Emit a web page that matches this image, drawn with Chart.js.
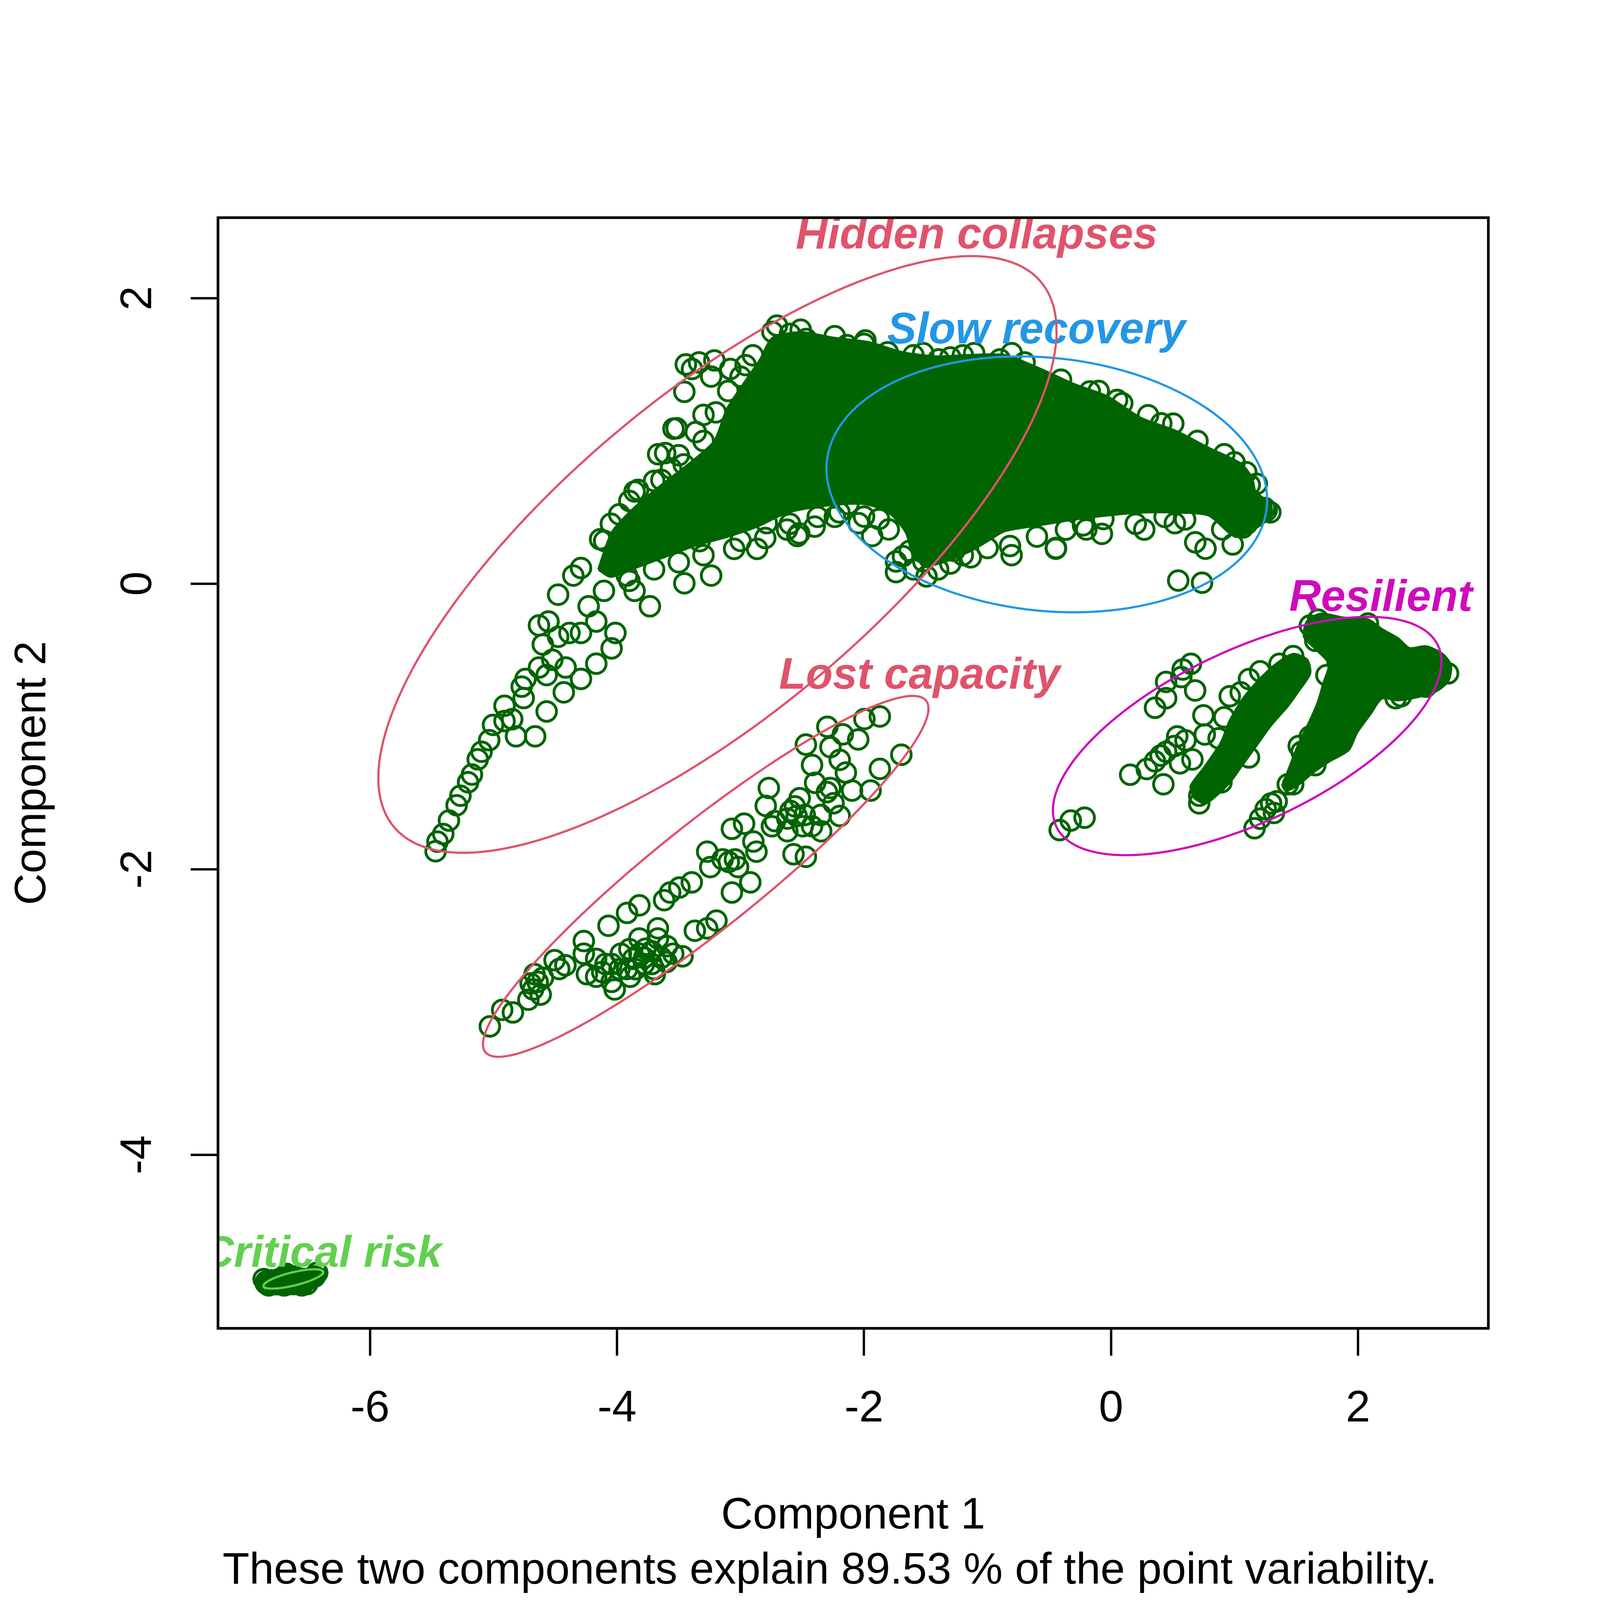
<!DOCTYPE html>
<html>
<head>
<meta charset="utf-8">
<title>Cluster plot</title>
<script src="https://cdn.jsdelivr.net/npm/chart.js@4.4.1/dist/chart.umd.min.js"></script>
<style>
html, body { margin: 0; padding: 0; background: #fff; overflow: hidden; }
#wrap { position: absolute; left: 0; top: 0; }
</style>
</head>
<body>
<div id="wrap"><canvas id="pc"></canvas></div>
<script>
// ---- data (component 1, component 2) ----
var upperPts = [
  [-5.469,-1.874],[-5.454,-1.807],[-5.407,-1.753],[-5.361,-1.659],[-5.299,-1.552],[-5.268,-1.485],
  [-5.206,-1.391],[-5.175,-1.337],[-5.128,-1.230],[-5.097,-1.177],[-5.035,-1.096],[-5.004,-0.989],
  [-4.911,-0.962],[-4.849,-0.949],[-4.818,-1.069],[-4.772,-0.721],[-4.741,-0.667],[-4.663,-1.069],
  [-4.570,-0.895],[-4.632,-0.587],[-4.601,-0.426],[-4.524,-0.533],[-4.431,-0.761],[-4.477,-0.372],
  [-4.632,-0.292],[-4.555,-0.265],[-4.477,-0.077],[-4.354,0.057],[-4.292,0.110],[-4.292,-0.667],
  [-4.168,-0.560],[-4.137,0.311],[-4.044,-0.453],[-4.013,-0.345],[-3.982,0.486],[-3.858,0.646],
  [-3.734,-0.158],[-3.641,0.727],[-3.610,0.915],[-3.563,0.807],[-3.517,1.089],[-3.455,1.344],
  [-3.362,1.062],[-3.393,1.504],[-3.300,1.183],[-3.238,0.057],[-3.455,0.003],[-3.331,0.298],
  [-3.052,0.244],[-2.866,0.244],[-2.525,0.352],[-3.238,1.451],[-3.083,1.504],[-2.959,1.531],
  [-4.292,-0.345],[-4.230,-0.158],[-4.106,-0.050],[-3.920,0.057],[-4.385,-0.345],[-4.168,-0.265],
  [-3.858,-0.050],[-4.416,-0.587],[-4.570,-0.640],[-4.911,-0.855],[-4.756,-0.801],
  [-3.443,1.536],[-3.336,1.550],[-3.212,1.564],[-3.543,1.086],[-3.667,0.907],[-3.460,0.836],
  [-3.830,0.657],[-4.104,0.300],
  [-2.540,0.334],[-2.623,0.379],[-2.375,0.468],[-2.044,0.424],[-1.934,0.334],[-1.741,0.156],
  [-1.741,0.081],[-1.494,0.051],[-1.136,0.185],[-0.805,0.200],[-0.447,0.245],[-0.365,0.379],
  [-0.074,0.349],[0.269,0.379],[-0.062,0.453],[0.544,0.022],[0.737,0.007],[0.682,0.290],
  [0.765,0.245],[0.985,0.275],[1.068,0.394],[1.205,0.498],[1.260,0.513],[0.517,0.424],
  [0.434,0.468],[-0.227,0.409],[-1.301,0.141],[-1.631,0.230],[-1.879,0.453],[-2.237,0.468],
  [-2.127,0.558],[-2.788,0.424],
  [-2.237,1.734],[-1.989,1.704],[-1.521,1.615],[-1.301,1.585],[-1.108,1.615],[-0.805,1.615],
  [-0.172,1.347],[0.049,1.287],[0.407,1.123],[1.095,0.781],[1.123,0.692],[-2.513,1.779],
  [-2.705,1.808],[-2.742,1.764],[-2.469,1.714],[-2.139,1.671],[-1.808,1.621],[-1.396,1.571],
  [-0.900,1.571],[-0.405,1.429],[0.091,1.264],[0.504,1.121],[0.917,0.907],[-1.685,0.193],
  [-1.520,0.157],[-1.270,0.230],[-0.818,0.264],[-0.446,0.250],[1.245,0.530],[1.290,0.500],
  [-3.900,0.020],[-3.700,0.100],[-3.500,0.150],[-3.300,0.200],[-3.000,0.300],[-2.800,0.320],
  [-2.600,0.420],[-2.400,0.400],[-2.200,0.500],[-2.000,0.470],[-1.800,0.380],[-1.600,0.100],
  [-1.400,0.100],[-1.200,0.200],[-1.000,0.250],[-0.600,0.330],[-0.200,0.380],[0.200,0.420],
  [0.600,0.450],[0.900,0.380],[1.100,0.420],
  [-3.000,1.450],[-2.900,1.600],[-2.600,1.750],[-2.000,1.680],[-1.600,1.600],[-1.200,1.600],
  [-0.700,1.550],[-0.100,1.350],[0.300,1.180],[0.700,1.000],[1.000,0.850],[1.180,0.700],
  [-4.050,0.420],[-3.900,0.580],[-3.700,0.720],[-3.500,0.900],[-3.300,1.000],[-3.200,1.200],
  [-3.100,1.350]
];

var lostPts = [
  [-5.030,-3.101],[-4.930,-2.985],[-4.843,-3.003],[-4.718,-2.914],[-4.680,-2.842],[-4.643,-2.789],
  [-4.668,-2.735],[-4.618,-2.878],[-4.506,-2.637],[-4.418,-2.673],[-4.468,-2.699],[-4.269,-2.503],
  [-4.244,-2.735],[-4.169,-2.753],[-4.269,-2.592],[-4.069,-2.396],[-4.019,-2.842],[-4.044,-2.664],
  [-3.919,-2.306],[-3.894,-2.753],[-3.969,-2.592],[-3.819,-2.253],[-3.819,-2.485],[-3.782,-2.664],
  [-3.719,-2.574],[-3.694,-2.735],[-3.669,-2.414],[-3.619,-2.217],[-3.595,-2.539],[-3.570,-2.163],
  [-3.470,-2.610],[-3.495,-2.128],[-3.395,-2.092],[-3.370,-2.431],[-3.270,-2.414],[-3.195,-2.360],
  [-3.270,-1.877],[-3.245,-1.985],[-3.145,-1.931],[-3.045,-1.931],[-3.070,-2.163],[-2.921,-2.092],
  [-3.020,-1.985],[-3.070,-1.717],[-2.971,-1.681],[-2.896,-1.806],[-2.871,-1.877],[-2.771,-1.431],
  [-2.796,-1.556],[-2.721,-1.663],[-2.621,-1.734],[-2.596,-1.592],[-2.521,-1.502],[-2.571,-1.895],
  [-2.471,-1.913],[-2.546,-1.627],[-2.471,-1.127],[-2.421,-1.270],[-2.396,-1.395],[-2.347,-1.734],
  [-2.297,-1.002],[-2.272,-1.145],[-2.247,-1.538],[-2.197,-1.234],[-2.172,-1.055],[-2.147,-1.323],
  [-2.197,-1.627],[-2.097,-1.449],[-2.047,-1.091],[-1.997,-0.948],[-1.947,-1.449],[-1.872,-0.930],
  [-1.872,-1.297],[-1.698,-1.198],[-2.272,-1.431],
  [-3.869,-2.628],[-3.769,-2.557],[-3.919,-2.699],[-4.094,-2.664],[-3.719,-2.664],[-3.819,-2.592],
  [-4.044,-2.789],[-4.169,-2.628],[-3.545,-2.592],[-3.669,-2.485],[-2.621,-1.645],[-2.496,-1.699],
  [-2.421,-1.699],[-2.746,-1.699],[-3.095,-1.949],
  [-3.850,-2.700],[-3.780,-2.620],[-3.700,-2.700],[-3.640,-2.620],[-3.900,-2.560],[-3.980,-2.700],
  [-4.120,-2.720],[-3.600,-2.650],[-2.560,-1.560],[-2.480,-1.620],[-2.350,-1.620],[-2.300,-1.460],
  [-4.700,-2.800],[-4.600,-2.760]
];

var resilientPts = [
  [-0.416,-1.726],[-0.326,-1.659],[-0.214,-1.639],[0.356,-0.869],[0.446,-0.802],[0.446,-0.688],
  [0.569,-0.654],[0.647,-0.561],[0.681,-0.748],[0.580,-0.601],[0.155,-1.338],[0.289,-1.298],
  [0.356,-1.244],[0.401,-1.204],[0.446,-1.177],[0.513,-1.137],[0.536,-1.070],[0.603,-1.097],
  [0.659,-1.231],[0.424,-1.405],[0.558,-1.258],[0.748,-0.922],[0.759,-1.056],[0.871,-1.083],
  [0.916,-0.936],[0.961,-0.788],[1.050,-0.761],[1.117,-0.668],[1.207,-0.614],[1.475,-0.507],
  [1.364,-0.561],[1.744,-0.641],[1.834,-0.547],[1.117,-1.217],[0.714,-1.485],[0.714,-1.539],
  [0.804,-1.418],[0.894,-1.391],[1.162,-1.713],[1.207,-1.646],[1.252,-1.579],[1.296,-1.539],
  [1.341,-1.525],[1.319,-1.606],[1.431,-1.405],[1.475,-1.405],[1.520,-1.137],[1.543,-1.177],
  [1.610,-1.070],[1.654,-1.271],[1.654,-0.400],[1.610,-0.293],[1.677,-0.252],[2.080,-0.279],
  [2.348,-0.788],[2.550,-0.721],[2.304,-0.802],[2.662,-0.601],[2.729,-0.628]
];

var criticalPts = [
  [-6.841,-4.889],[-6.820,-4.915],[-6.779,-4.906],[-6.737,-4.906],[-6.696,-4.915],[-6.655,-4.906],
  [-6.614,-4.906],[-6.572,-4.906],[-6.531,-4.889],[-6.490,-4.871],[-6.448,-4.853],[-6.428,-4.826],
  [-6.676,-4.835],[-6.614,-4.853],[-6.737,-4.871],[-6.799,-4.880],[-6.552,-4.915],[-6.510,-4.906],
  [-6.861,-4.871]
];

// outlines of the areas where the circles overlap into solid green
var upperCore = [
  [-4.15,0.10],[-4.04,0.36],[-3.86,0.53],[-3.64,0.69],[-3.40,0.85],[-3.21,1.00],[-3.11,1.22],
  [-2.99,1.38],[-2.84,1.57],[-2.74,1.72],[-2.51,1.76],[-2.24,1.72],[-1.96,1.69],[-1.69,1.62],
  [-1.41,1.59],[-1.14,1.60],[-0.86,1.60],[-0.59,1.51],[-0.31,1.40],[-0.03,1.31],[0.24,1.16],
  [0.52,1.07],[0.79,0.95],[1.05,0.84],[1.14,0.74],[1.17,0.64],[1.29,0.56],[1.29,0.47],[1.17,0.39],
  [1.01,0.33],[0.79,0.48],[0.52,0.50],[0.24,0.50],[-0.03,0.48],[-0.31,0.45],[-0.59,0.41],
  [-0.86,0.37],[-1.00,0.30],[-1.14,0.23],[-1.33,0.16],[-1.49,0.13],[-1.60,0.20],[-1.66,0.36],
  [-1.80,0.50],[-2.00,0.56],[-2.30,0.55],[-2.62,0.50],[-2.87,0.40],[-3.11,0.33],[-3.36,0.27],
  [-3.61,0.19],[-3.86,0.11],[-4.05,0.05],[-4.15,0.10]
];
var resilientCoreA = [
  [0.670,-1.499],[0.647,-1.418],[0.759,-1.284],[0.894,-1.110],[0.961,-0.963],[1.073,-0.802],
  [1.207,-0.668],[1.341,-0.561],[1.475,-0.494],[1.587,-0.534],[1.610,-0.628],[1.520,-0.748],
  [1.431,-0.855],[1.296,-0.989],[1.162,-1.150],[1.050,-1.284],[0.961,-1.391],[0.849,-1.485],
  [0.759,-1.539],[0.670,-1.499]
];
var resilientCoreB = [
  [1.386,-1.418],[1.453,-1.271],[1.520,-1.123],[1.610,-0.963],[1.677,-0.829],[1.722,-0.695],
  [1.766,-0.561],[1.654,-0.453],[1.565,-0.373],[1.587,-0.266],[1.699,-0.212],[1.878,-0.239],
  [2.080,-0.252],[2.192,-0.319],[2.326,-0.386],[2.415,-0.453],[2.550,-0.440],[2.684,-0.494],
  [2.751,-0.574],[2.729,-0.681],[2.639,-0.748],[2.505,-0.788],[2.326,-0.815],[2.192,-0.802],
  [2.102,-0.909],[1.990,-1.043],[1.923,-1.164],[1.766,-1.244],[1.632,-1.324],[1.520,-1.405],
  [1.431,-1.445],[1.386,-1.418]
];
var criticalCore = [
  [-6.934,-4.889],[-6.900,-4.840],[-6.840,-4.817],[-6.750,-4.800],[-6.700,-4.775],[-6.620,-4.780],
  [-6.550,-4.795],[-6.450,-4.795],[-6.360,-4.800],[-6.341,-4.830],[-6.407,-4.889],[-6.490,-4.951],
  [-6.614,-4.978],[-6.779,-4.981],[-6.882,-4.969],[-6.923,-4.933],[-6.934,-4.889]
];

// cluster ellipses: centre and spread matrix (sxx, sxy, syy)
var ellName  = ['Hidden collapses', 'Slow recovery', 'Lost capacity', 'Resilient', 'Critical risk'];
var ellColor = ['#DF536B', '#2297E6', '#DF536B', '#CD0BBC', '#61D04F'];
var ellCx  = [-3.187, -0.520, -3.282, 1.102, -6.621];
var ellCy  = [0.205, 0.696, -2.050, -1.067, -4.870];
var ellSxx = [7.541, 3.183, 3.254, 2.474, 0.0584];
var ellSxy = [4.300, -0.195, 2.120, 0.820, 0.0116];
var ellSyy = [4.368, 0.803, 1.598, 0.697, 0.00458];

// cluster labels (centre x, baseline y)
var labelX = [-1.088, -0.605, -1.550, 2.185, -6.389];
var labelY = [2.349, 1.683, -0.735, -0.190, -4.784];

var xTickStep = 2, yTickStep = 2;
var xMin = -7.231, xMax = 3.055, yMin = -5.216, yMax = 2.564;
var xTitle = 'Component 1';
var yTitle = 'Component 2';
var subTitle = 'These two components explain 89.53 % of the point variability.';

var FONT = '"Liberation Sans", Arial, Helvetica, sans-serif';
var FS = 132;
var PT_GREEN = '#006400';

// the layout was measured on a 4800 px picture; scale it to whatever the window is
var W = window.innerWidth || 4800;
var H = window.innerHeight || 4800;
var S = Math.min(W, H);
var k = S / 4800;
function px(v) { return v * k; }

var cv = document.getElementById('pc');
cv.style.width = S + 'px';
cv.style.height = S + 'px';
document.getElementById('wrap').style.width = S + 'px';
document.getElementById('wrap').style.height = S + 'px';

function toXY(list) {
  return list.map(function(p) { return { x: p[0], y: p[1] }; });
}

function ellipsePath(i) {
  var l11 = Math.sqrt(ellSxx[i]);
  var l21 = ellSxy[i] / l11;
  var l22 = Math.sqrt(ellSyy[i] - l21 * l21);
  var out = [];
  for (var j = 0; j <= 180; j++) {
    var t = 2 * Math.PI * j / 180;
    out.push({ x: ellCx[i] + l11 * Math.cos(t), y: ellCy[i] + l21 * Math.cos(t) + l22 * Math.sin(t) });
  }
  return out;
}

function coreSet(list, bw) {
  return {
    type: 'line', label: 'core', data: toXY(list), order: 2,
    showLine: true, fill: 'shape', tension: 0.25,
    backgroundColor: PT_GREEN, borderColor: PT_GREEN, borderWidth: px(bw),
    borderJoinStyle: 'round', pointRadius: 0
  };
}

var datasets = [];
datasets.push(coreSet(upperCore, 8));
datasets.push(coreSet(resilientCoreA, 8));
datasets.push(coreSet(resilientCoreB, 8));
datasets.push(coreSet(criticalCore, 3));

datasets.push({
  type: 'scatter', label: 'points', order: 1,
  data: toXY(upperPts.concat(lostPts, resilientPts, criticalPts)),
  pointStyle: 'circle', pointRadius: px(29.5), pointBorderWidth: px(8.5),
  pointBackgroundColor: 'rgba(0,0,0,0)', pointBorderColor: PT_GREEN,
  borderColor: PT_GREEN, backgroundColor: 'rgba(0,0,0,0)', showLine: false
});

ellName.forEach(function(n, i) {
  datasets.push({
    type: 'line', label: n, data: ellipsePath(i), order: 0,
    showLine: true, fill: false, tension: 0, pointRadius: 0,
    borderColor: ellColor[i], borderWidth: px(6.5)
  });
});

// cluster names are drawn right after the circles, under the ellipses
var labelPlugin = {
  id: 'clusterLabels',
  afterDatasetDraw: function(chart, args) {
    if (chart.data.datasets[args.index].label !== 'points') return;
    var ctx = chart.ctx, a = chart.chartArea;
    var xs = chart.scales.x, ys = chart.scales.y;
    ctx.save();
    ctx.beginPath();
    ctx.rect(a.left, a.top, a.right - a.left, a.bottom - a.top);
    ctx.clip();
    ctx.font = 'italic bold ' + px(FS) + 'px ' + FONT;
    ctx.textAlign = 'center';
    ctx.textBaseline = 'alphabetic';
    for (var i = 0; i < ellName.length; i++) {
      ctx.fillStyle = ellColor[i];
      ctx.fillText(ellName[i], xs.getPixelForValue(labelX[i]), ys.getPixelForValue(labelY[i]));
    }
    ctx.restore();
  }
};

// frame round the plot region, plus the sub line under the x title
var boxPlugin = {
  id: 'plotBox',
  afterDatasetsDraw: function(chart) {
    var ctx = chart.ctx, a = chart.chartArea;
    ctx.save();
    ctx.strokeStyle = '#000';
    ctx.lineWidth = px(8);
    ctx.strokeRect(a.left, a.top, a.right - a.left, a.bottom - a.top);
    ctx.fillStyle = '#000';
    ctx.font = px(FS) + 'px ' + FONT;
    ctx.textAlign = 'center';
    ctx.textBaseline = 'alphabetic';
    ctx.fillText(subTitle, (a.left + a.right) / 2 - px(70), a.bottom + px(766));
    ctx.restore();
  }
};

var tickGrid = {
  display: true, drawOnChartArea: false, drawTicks: true,
  tickLength: px(82), tickWidth: px(7), tickColor: '#000'
};

new Chart(cv, {
  type: 'scatter',
  data: { datasets: datasets },
  plugins: [labelPlugin, boxPlugin],
  options: {
    responsive: false,
    maintainAspectRatio: false,
    animation: false,
    events: [],
    layout: { padding: { top: px(653), right: px(335), left: 0, bottom: 0 } },
    plugins: { legend: { display: false }, tooltip: { enabled: false } },
    scales: {
      x: {
        type: 'linear', min: xMin, max: xMax,
        border: { display: false },
        grid: tickGrid,
        ticks: {
          stepSize: xTickStep, includeBounds: false, maxRotation: 0, minRotation: 0,
          padding: px(82), color: '#000', font: { family: FONT, size: px(FS) }
        },
        title: {
          display: true, color: '#000', text: xTitle,
          font: { family: FONT, size: px(FS), lineHeight: 1.182 },
          padding: { top: 0, bottom: px(173) }
        },
        afterFit: function(s) { s.height = px(815); }
      },
      y: {
        type: 'linear', min: yMin, max: yMax,
        border: { display: false },
        grid: tickGrid,
        ticks: {
          stepSize: yTickStep, includeBounds: false, minRotation: 90, maxRotation: 90,
          crossAlign: 'center', padding: px(96), color: '#000', font: { family: FONT, size: px(FS) }
        },
        title: {
          display: true, color: '#000', text: yTitle,
          font: { family: FONT, size: px(FS), lineHeight: 1.2 },
          padding: { top: px(20), bottom: 0 }
        },
        afterFit: function(s) { s.width = px(654); }
      }
    }
  }
});
</script>
</body>
</html>
